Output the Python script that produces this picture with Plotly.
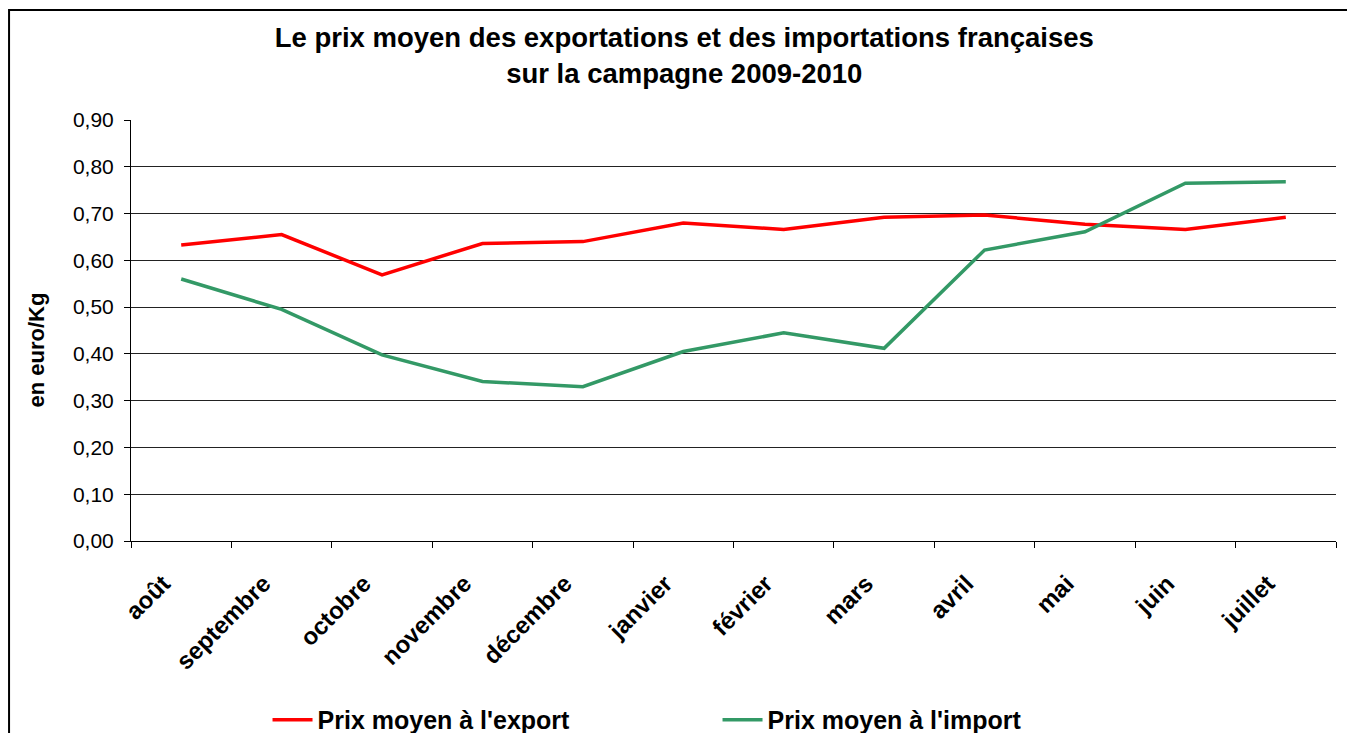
import plotly.graph_objects as go

months = ["août", "septembre", "octobre", "novembre", "décembre", "janvier",
          "février", "mars", "avril", "mai", "juin", "juillet"]
export_price = [0.633, 0.655, 0.569, 0.636, 0.640, 0.680, 0.666, 0.692, 0.697, 0.677, 0.666, 0.692]
import_price = [0.560, 0.495, 0.398, 0.341, 0.330, 0.405, 0.445, 0.412, 0.622, 0.661, 0.765, 0.768]
y_ticks = [0.0, 0.1, 0.2, 0.3, 0.4, 0.5, 0.6, 0.7, 0.8, 0.9]

FONT = "Liberation Sans, Arial, sans-serif"

fig = go.Figure()
fig.add_trace(go.Scatter(x=months, y=export_price, mode="lines",
                         name="Prix moyen à l'export",
                         line=dict(color="#FF0000", width=3.5)))
fig.add_trace(go.Scatter(x=months, y=import_price, mode="lines",
                         name="Prix moyen à l'import",
                         line=dict(color="#339966", width=3.5)))

fig.update_layout(
    width=1347, height=733,
    margin=dict(l=131, r=11, t=120, b=192, autoexpand=False),
    paper_bgcolor="white", plot_bgcolor="white",
    separators=", ",
    font=dict(family=FONT, color="black"),
    title=dict(text="Le prix moyen des exportations et des importations françaises<br>sur la campagne 2009-2010",
               x=0.508, xanchor="center", xref="container",
               y=0.936, yanchor="middle", yref="container",
               font=dict(family=FONT, size=27.5, weight="bold", color="black")),
    showlegend=True,
    legend=dict(orientation="h", x=0.1133, xanchor="left", y=-0.425, yanchor="middle",
                font=dict(family=FONT, size=25, weight="bold", color="black"),
                entrywidth=395, itemwidth=40, bgcolor="rgba(0,0,0,0)"),
    xaxis=dict(type="category", range=[-0.5, len(months) - 0.5],
               showline=True, linecolor="black", linewidth=1,
               ticks="outside", tickson="boundaries", ticklen=6, tickcolor="black",
               tickangle=-45, showgrid=False, automargin=False,
               ticklabelstandoff=18, ticklabelshift=-18,
               tickfont=dict(family=FONT, size=24, weight="bold", color="black")),
    yaxis=dict(range=[0, 0.9], tickvals=y_ticks, tickformat=".2f",
               showline=True, linecolor="black", linewidth=1,
               ticks="outside", ticklen=6, tickcolor="black",
               showgrid=True, gridcolor="#222222", gridwidth=1, zeroline=False,
               ticklabelstandoff=6, automargin=False,
               tickfont=dict(family=FONT, size=21, color="black")),
    shapes=[dict(type="rect", xref="paper", yref="paper",
                 x0=-0.1012, x1=1.05, y0=-0.7, y1=1.261,
                 line=dict(color="black", width=2), fillcolor="rgba(0,0,0,0)", layer="above")],
    annotations=[dict(text="en euro/Kg", textangle=-90, xref="paper", yref="paper",
                      x=-0.0776, y=0.4537, xanchor="center", yanchor="middle", showarrow=False,
                      font=dict(family=FONT, size=22, weight="bold", color="black"))],
)

fig.write_html("out.html", config={"displayModeBar": False},
               post_script="document.body.style.margin='0';")
